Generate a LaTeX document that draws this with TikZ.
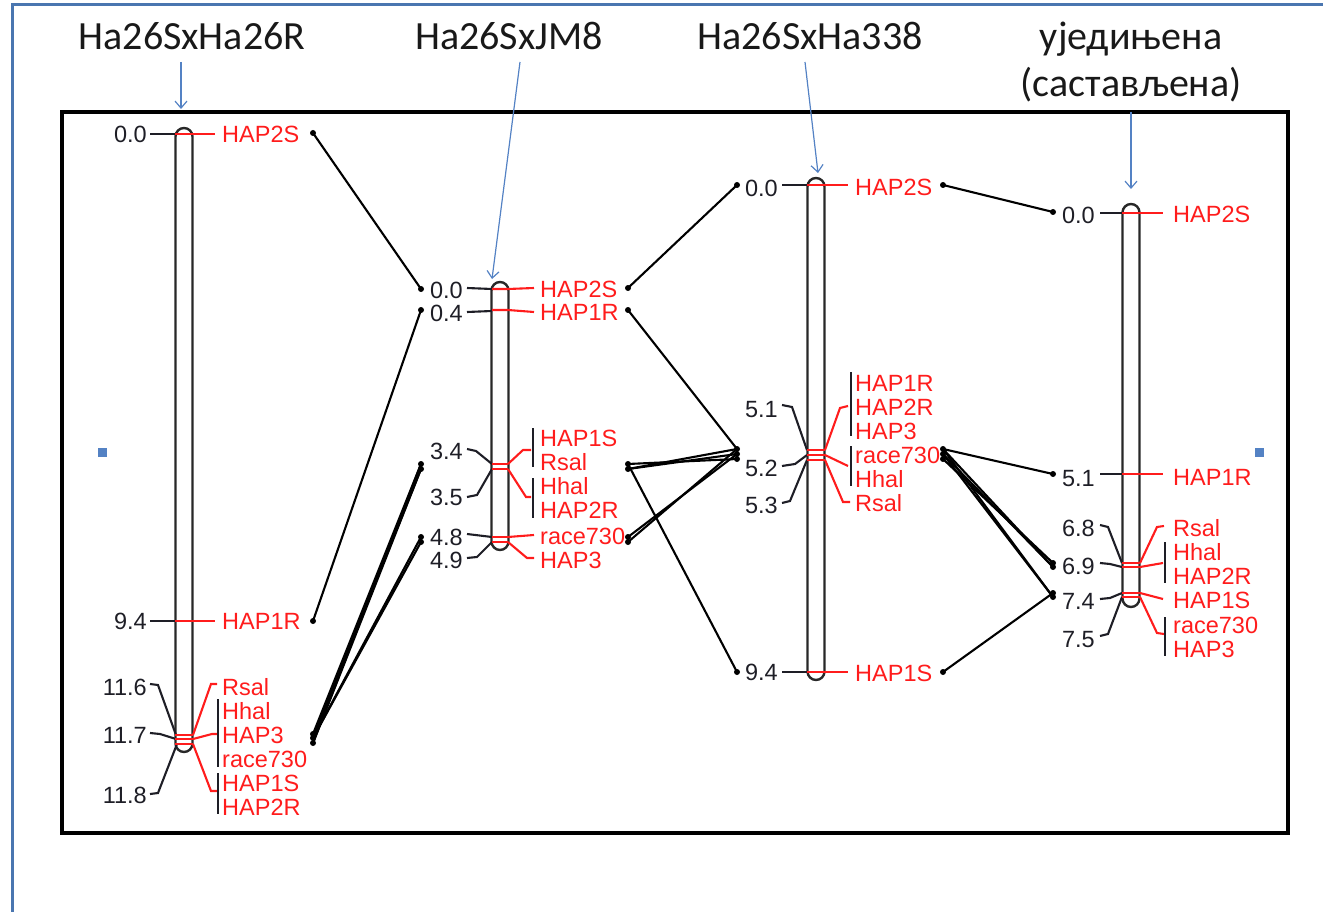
\documentclass[tikz,border=0pt]{standalone}
\usepackage{fontspec}
\setmainfont{Liberation Sans}
\newfontfamily\titlefont{Carlito}
\usetikzlibrary{arrows.meta}
\definecolor{labred}{RGB}{255,28,28}
\definecolor{numcol}{RGB}{30,30,38}
\definecolor{chromcol}{RGB}{40,40,40}
\definecolor{frameblue}{RGB}{74,118,176}
\definecolor{arrowblue}{RGB}{84,130,196}
\definecolor{titlecol}{RGB}{25,25,25}
\begin{document}
\begin{tikzpicture}[x=1pt,y=-1pt,
 chrom/.style={draw=chromcol, line width=2.4pt, rounded corners=8.5pt, minimum width=17pt, inner sep=0pt, fill=white},
 tb/.style={draw=numcol, line width=2.1pt},
 tr/.style={draw=labred, line width=2.1pt},
 bar/.style={draw=numcol, line width=2.3pt},
 num/.style={anchor=east, inner sep=0pt, text=numcol, font=\fontsize{23.5}{24}\selectfont, text height=16.8pt, text depth=0pt},
 lab/.style={anchor=west, inner sep=0pt, text=labred, font=\fontsize{23.5}{24}\selectfont, text height=16.8pt, text depth=0pt},
 link/.style={draw=black, line width=2.1pt},
 ttl/.style={anchor=base, inner sep=0pt, text=titlecol, font=\titlefont\fontsize{40}{48}\selectfont},
 tarrow/.style={draw=arrowblue, line width=1.2pt, -{Straight Barb[length=7pt,width=12pt]}}
]
\useasboundingbox (0,0) rectangle (1323,912);
% outer frame
\draw[frameblue, line width=3pt] (12,912) -- (12,5) -- (1323,5);
% inner frame
\draw[black, line width=3.2pt] (62,112) rectangle (1288,833);
\fill[arrowblue] (98,448) rectangle (107,457);
\fill[arrowblue] (1255,448) rectangle (1264,457);

% titles
\node[ttl] (t1) at (192,50) {Ha26SxHa26R};
\node[ttl] (t2) at (509,50) {Ha26SxJM8};
\node[ttl] (t3) at (810,50) {Ha26SxHa338};
\node[ttl] (t4) at (1131,50) {уједињена};
\node[ttl] (t5) at (1131,97) {(састављена)};
\coordinate (a1s) at (181,62); \coordinate (a1e) at (181,109);
\coordinate (a2s) at (520,62); \coordinate (a2e) at (492,279);
\coordinate (a3s) at (805,62); \coordinate (a3e) at (818,173);
\coordinate (a4s) at (1131,112); \coordinate (a4e) at (1131,189);
\draw[tarrow] (a1s) -- (a1e);
\draw[tarrow] (a2s) -- (a2e);
\draw[tarrow] (a3s) -- (a3e);
\draw[tarrow] (a4s) -- (a4e);

% chromosomes
\node[chrom, minimum height=624pt] (chr1) at (184,440) {};
\node[chrom, minimum height=268pt] (chr2) at (500,416) {};
\node[chrom, minimum height=502pt] (chr3) at (816,429) {};
\node[chrom, minimum height=403pt] (chr4) at (1131,405.5) {};

% ---------- chromosome 1 ----------
\node[num] (n1a) at (147,134) {0.0};
\node[num] (n1b) at (147,621) {9.4};
\node[num] (n1c) at (147,687) {11.6};
\node[num] (n1d) at (147,735) {11.7};
\node[num] (n1e) at (147,795) {11.8};
\draw[tb] (150,134) -- (175,134);
\draw[tb] (150,621) -- (175,621);
\draw[tb] (150,684) -- (158,685) -- (176,735);
\draw[tb] (150,733) -- (160,734) -- (176,739);
\draw[tb] (150,794) -- (158,793) -- (177,744);
\draw[tr] (175,134) -- (215,134);
\draw[tr] (175,621) -- (215,621);
\draw[tr] (175,735) -- (193,735);
\draw[tr] (175,739) -- (193,739);
\draw[tr] (175,744) -- (193,744);
\draw[tr] (193,735) -- (211,684) -- (217,684);
\draw[tr] (193,739) -- (212,734) -- (217,734);
\draw[tr] (193,744) -- (211,791) -- (217,791);
\draw[bar] (218,699) -- (218,767);
\draw[bar] (218,773) -- (218,814);
\node[lab] (l1a) at (222,134) {HAP2S};
\node[lab] (l1b) at (222,621) {HAP1R};
\node[lab] (l1c) at (222,687) {Rsal};
\node[lab] (l1d) at (222,711) {Hhal};
\node[lab] (l1e) at (222,735) {HAP3};
\node[lab] (l1f) at (222,759) {race730};
\node[lab] (l1g) at (222,783) {HAP1S};
\node[lab] (l1h) at (222,807) {HAP2R};

% ---------- chromosome 2 ----------
\node[num] (n2a) at (463,290) {0.0};
\node[num] (n2b) at (463,313) {0.4};
\node[num] (n2c) at (463,451) {3.4};
\node[num] (n2d) at (463,497) {3.5};
\node[num] (n2e) at (463,537) {4.8};
\node[num] (n2f) at (463,560) {4.9};
\draw[tb] (467,288) -- (492,289);
\draw[tb] (467,312) -- (492,311);
\draw[tb] (467,449) -- (476,451) -- (492,464);
\draw[tb] (467,497) -- (477,495) -- (492,469);
\draw[tb] (467,534) -- (492,537);
\draw[tb] (467,558) -- (477,557) -- (492,542);
\draw[tr] (492,289) -- (508,289) -- (534,288);
\draw[tr] (492,310) -- (508,310) -- (534,312);
\draw[tr] (492,464) -- (508,464);
\draw[tr] (492,469) -- (508,469);
\draw[tr] (492,537) -- (508,537);
\draw[tr] (492,542) -- (508,542);
\draw[tr] (508,464) -- (523,450) -- (531,450);
\draw[tr] (508,469) -- (526,497) -- (531,497);
\draw[tr] (508,537) -- (534,535);
\draw[tr] (508,542) -- (527,558) -- (534,558);
\draw[bar] (533,428) -- (533,467);
\draw[bar] (533,478) -- (533,518);
\node[lab] (l2a) at (540,289) {HAP2S};
\node[lab] (l2b) at (540,312) {HAP1R};
\node[lab] (l2c) at (540,438) {HAP1S};
\node[lab] (l2d) at (540,462) {Rsal};
\node[lab] (l2e) at (540,486) {Hhal};
\node[lab] (l2f) at (540,510) {HAP2R};
\node[lab] (l2g) at (540,536) {race730};
\node[lab] (l2h) at (540,560) {HAP3};

% ---------- chromosome 3 ----------
\node[num] (n3a) at (778,188) {0.0};
\node[num] (n3b) at (778,409) {5.1};
\node[num] (n3c) at (778,468) {5.2};
\node[num] (n3d) at (778,505) {5.3};
\node[num] (n3e) at (778,672) {9.4};
\draw[tb] (782,185) -- (807,185);
\draw[tb] (782,405) -- (792,407) -- (807,450);
\draw[tb] (782,466) -- (795,464) -- (807,455);
\draw[tb] (782,503) -- (790,501) -- (807,460);
\draw[tb] (782,672) -- (807,672);
\draw[tr] (807,185) -- (848,185);
\draw[tr] (807,672) -- (848,672);
\draw[tr] (807,450) -- (825,450);
\draw[tr] (807,455) -- (825,455);
\draw[tr] (807,460) -- (825,460);
\draw[tr] (825,450) -- (840,408) -- (848,406);
\draw[tr] (825,455) -- (848,466);
\draw[tr] (825,460) -- (843,502) -- (850,502);
\draw[bar] (851,372) -- (851,436);
\draw[bar] (851,446) -- (851,486);
\node[lab] (l3a) at (855,187) {HAP2S};
\node[lab] (l3b) at (855,383) {HAP1R};
\node[lab] (l3c) at (855,407) {HAP2R};
\node[lab] (l3d) at (855,431) {HAP3};
\node[lab] (l3e) at (855,455) {race730};
\node[lab] (l3f) at (855,479) {Hhal};
\node[lab] (l3g) at (855,503) {Rsal};
\node[lab] (l3h) at (855,673) {HAP1S};

% ---------- chromosome 4 ----------
\node[num] (n4a) at (1095,215) {0.0};
\node[num] (n4b) at (1095,478) {5.1};
\node[num] (n4c) at (1095,528) {6.8};
\node[num] (n4d) at (1095,566) {6.9};
\node[num] (n4e) at (1095,601) {7.4};
\node[num] (n4f) at (1095,639) {7.5};
\draw[tb] (1100,213) -- (1122,213);
\draw[tb] (1100,474) -- (1122,474);
\draw[tb] (1100,525) -- (1108,527) -- (1122,563);
\draw[tb] (1100,563) -- (1110,564) -- (1122,567);
\draw[tb] (1100,599) -- (1110,598) -- (1122,593);
\draw[tb] (1100,636) -- (1108,634) -- (1122,597);
\draw[tr] (1122,213) -- (1163,213);
\draw[tr] (1122,474) -- (1163,474);
\draw[tr] (1122,563) -- (1140,563);
\draw[tr] (1122,567) -- (1140,567);
\draw[tr] (1122,593) -- (1140,593);
\draw[tr] (1122,597) -- (1140,597);
\draw[tr] (1140,563) -- (1157,527) -- (1164,526);
\draw[tr] (1140,567) -- (1163,563);
\draw[tr] (1140,593) -- (1163,599);
\draw[tr] (1140,597) -- (1157,633) -- (1164,634);
\draw[bar] (1165,542) -- (1165,583);
\draw[bar] (1165,617) -- (1165,656);
\node[lab] (l4a) at (1173,214) {HAP2S};
\node[lab] (l4b) at (1173,477) {HAP1R};
\node[lab] (l4c) at (1173,528) {Rsal};
\node[lab] (l4d) at (1173,552) {Hhal};
\node[lab] (l4e) at (1173,576) {HAP2R};
\node[lab] (l4f) at (1173,600) {HAP1S};
\node[lab] (l4g) at (1173,625) {race730};
\node[lab] (l4h) at (1173,649) {HAP3};

% ---------- link end points ----------
\coordinate (d1a) at (313,133);
\coordinate (d1b) at (313,621);
\coordinate (d1c) at (313,734);
\coordinate (d1d) at (313,738);
\coordinate (d1e) at (313,743);
\coordinate (e2a) at (421,289);
\coordinate (e2b) at (421,310);
\coordinate (e2c) at (421,464);
\coordinate (e2d) at (421,469);
\coordinate (e2e) at (421,537);
\coordinate (e2f) at (421,542);
\coordinate (d2a) at (628,288);
\coordinate (d2b) at (628,310);
\coordinate (d2c) at (628,464);
\coordinate (d2d) at (628,469);
\coordinate (d2e) at (628,537);
\coordinate (d2f) at (628,542);
\coordinate (e3a) at (737,185);
\coordinate (e3b) at (737,449);
\coordinate (e3c) at (737,454);
\coordinate (e3d) at (737,459);
\coordinate (e3e) at (737,672);
\coordinate (d3a) at (943,185);
\coordinate (d3b) at (943,449);
\coordinate (d3c) at (943,454);
\coordinate (d3d) at (943,459);
\coordinate (d3e) at (943,672);
\coordinate (e4a) at (1053,212);
\coordinate (e4b) at (1053,474);
\coordinate (e4c) at (1053,563);
\coordinate (e4d) at (1053,567);
\coordinate (e4e) at (1053,593);
\coordinate (e4f) at (1053,597);

% links 1 -> 2
\draw[link] (d1a) -- (e2a);
\draw[link] (d1b) -- (e2b);
\draw[link] (d1c) -- (e2c);
\draw[link] (d1e) -- (e2c);
\draw[link] (d1d) -- (e2d);
\draw[link] (d1e) -- (e2d);
\draw[link] (d1d) -- (e2e);
\draw[link] (d1d) -- (e2f);
% links 2 -> 3
\draw[link] (d2a) -- (e3a);
\draw[link] (d2b) -- (e3b);
\draw[link] (d2c) -- (e3e);
\draw[link] (d2c) -- (e3d);
\draw[link] (d2d) -- (e3c);
\draw[link] (d2d) -- (e3b);
\draw[link] (d2e) -- (e3c);
\draw[link] (d2f) -- (e3b);
% links 3 -> 4
\draw[link] (d3a) -- (e4a);
\draw[link] (d3b) -- (e4b);
\draw[link] (d3b) -- (e4d);
\draw[link] (d3b) -- (e4f);
\draw[link] (d3c) -- (e4f);
\draw[link] (d3c) -- (e4d);
\draw[link] (d3d) -- (e4c);
\draw[link] (d3e) -- (e4e);

\foreach \p in {d1a,d1b,d1c,d1d,d1e,e2a,e2b,e2c,e2d,e2e,e2f,d2a,d2b,d2c,d2d,d2e,d2f,e3a,e3b,e3c,e3d,e3e,d3a,d3b,d3c,d3d,d3e,e4a,e4b,e4c,e4d,e4e,e4f}
  \fill[black] (\p) circle (3);
\end{tikzpicture}
\end{document}
